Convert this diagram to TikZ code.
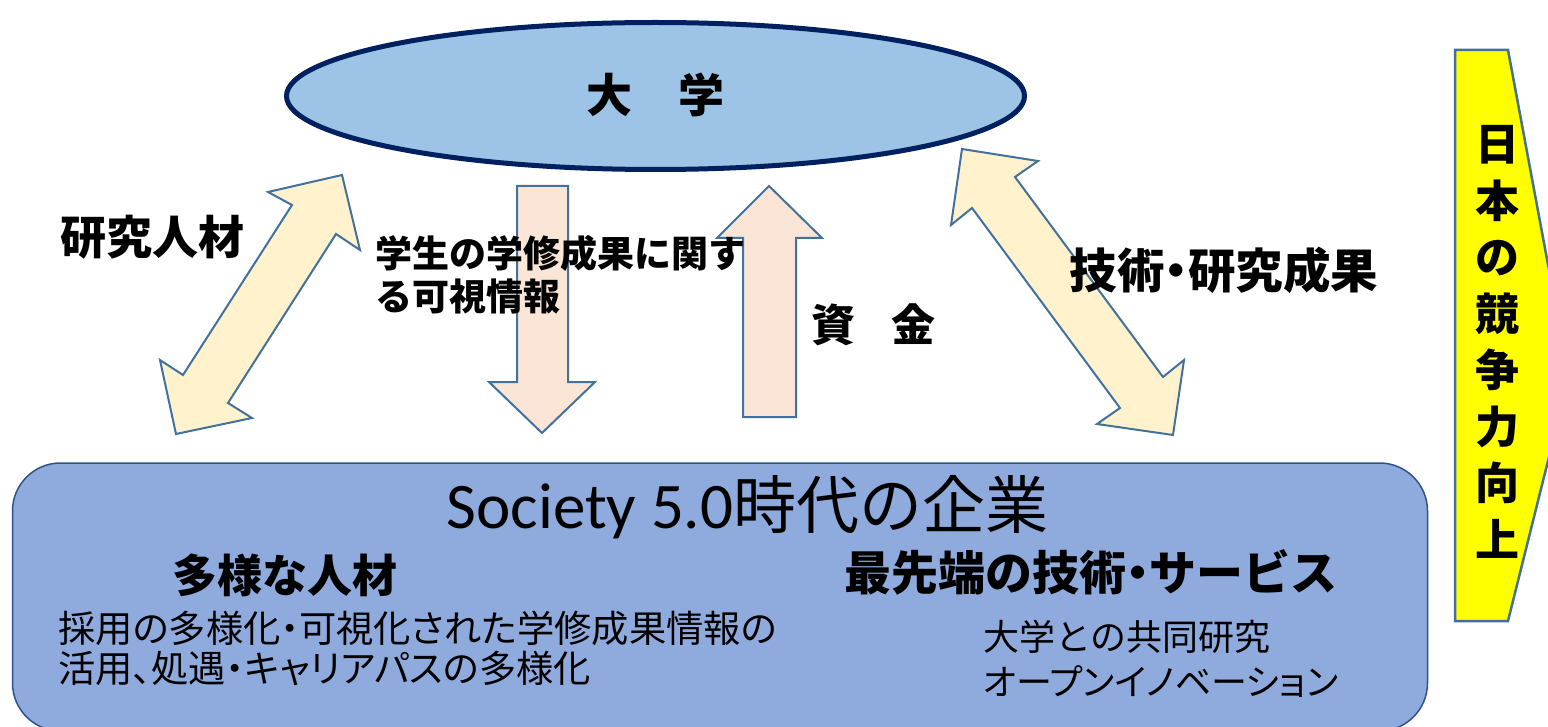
\documentclass[tikz,border=0pt]{standalone}
\usepackage{fontspec}
\setmainfont{Noto Sans CJK JP}
\newfontfamily\carlito{Carlito}
\newfontfamily\jppalt[RawFeature=+palt]{Noto Sans CJK JP}
\newcommand{\nkg}{{\jppalt ・}}
\usetikzlibrary{shapes.geometric}
\definecolor{navyedge}{HTML}{002060}
\definecolor{ellfill}{HTML}{9DC3E6}
\definecolor{arrowedge}{HTML}{41719C}
\definecolor{dblfill}{HTML}{FFF2CC}
\definecolor{vertfill}{HTML}{FBE5D6}
\definecolor{boxfill}{HTML}{8FAADC}
\definecolor{boxedge}{HTML}{2F528F}
\definecolor{yel}{HTML}{FFFF00}
\begin{document}
\begin{tikzpicture}[x=1pt,y=-1pt,
  blockarrow/.style={draw=arrowedge, line width=2pt, line join=miter},
  dblarrow/.style={blockarrow, fill=dblfill},
  vertarrow/.style={blockarrow, fill=vertfill},
  lbl/.style={inner sep=0pt, text=black},
  fs/.style 2 args={font=\fontsize{#1}{#2}\selectfont},
  bfs/.style 2 args={font=\bfseries\fontsize{#1}{#2}\selectfont}]
\useasboundingbox (0,0) rectangle (1548,727);
\clip (0,0) rectangle (1548,727);

% company box
\node[draw=boxedge, line width=1.5pt, fill=boxfill, rounded corners=48pt,
      minimum width=1415pt, minimum height=268pt, inner sep=0pt] (kigyo) at (720,597) {};

% university ellipse
\node[ellipse, draw=navyedge, line width=5pt, fill=ellfill,
      minimum width=738pt, minimum height=147pt, inner sep=0pt] (daigaku) at (655.5,96) {};
\node[lbl, bfs={46}{50}] (daigakulbl) at (655,95) {大\hspace{1em}学};

% left double arrow
\draw[dblarrow] (342,175) -- (360,250) -- (336,234) -- (228,403) -- (252,418) -- (176,434)
  -- (160,360) -- (183,375) -- (292,205) -- (268,192) -- cycle;
% right double arrow
\draw[dblarrow] (962,149) -- (1038,161) -- (1015,177) -- (1163,377) -- (1184,360) -- (1173,435)
  -- (1097,424) -- (1120,408) -- (972,208) -- (951,225) -- cycle;
% down arrow
\draw[vertarrow] (517,186) -- (568,186) -- (568,382) -- (595,382) -- (542,433) -- (489,382) -- (517,382) -- cycle;
% up arrow
\draw[vertarrow] (769,186) -- (822,238) -- (796,238) -- (796,417) -- (743,417) -- (743,238) -- (717,238) -- cycle;

% yellow pentagon
\draw[draw=arrowedge, line width=2.5pt, fill=yel, line join=miter]
  (1455,50) -- (1508,50) -- (1569,377) -- (1508,621) -- (1455,621) -- cycle;
\node[lbl, bfs={44}{56.5}, align=center] (kyoso) at (1497,342)
  {日\\本\\の\\競\\争\\力\\向\\上};

% labels
\node[lbl, bfs={46}{50}] (jinzai) at (152,237) {研究人材};
\node[lbl, bfs={37}{43}, align=left, anchor=west] (kashi) at (375,275)
  {学生の学修成果に関す\\る可視情報};
\node[lbl, bfs={44}{50}] (shikin) at (873.5,325) {資\hspace{37pt}金};
\node[lbl, bfs={47.5}{50}] (gijutsu) at (1224,270) {技術\nkg 研究成果};

\node[lbl, fs={63}{66}] (society) at (747.5,507) {{\carlito\fontsize{65}{66}\selectfont Society 5.0}時代の企業};
\node[lbl, bfs={45}{50}] (tayo) at (285,575) {多様な人材};
\node[lbl, font=\jppalt\fontsize{37.3}{40}\selectfont, align=left, anchor=west] (saiyo) at (58,648)
  {採用の多様化・可視化された学修成果情報の\\活用、処遇・キャリアパスの多様化};
\node[lbl, bfs={47}{50}] (saisentan) at (1091,572) {最先端の技術\nkg サービス};
\node[lbl, fs={36}{45}, align=left, anchor=west] (kyodo) at (983,658.5)
  {大学との共同研究\\{\jppalt オープンイノベーション}};
\end{tikzpicture}
\end{document}
